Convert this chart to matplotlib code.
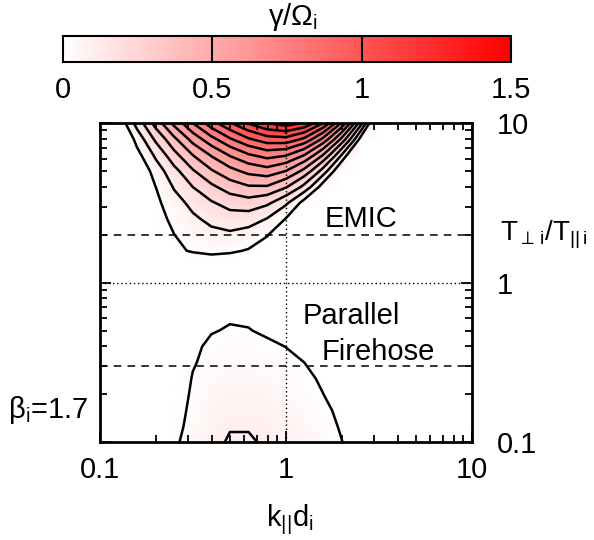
import numpy as np
import matplotlib
matplotlib.use("Agg")
from matplotlib import pyplot as plt
from matplotlib.colors import LinearSegmentedColormap
from matplotlib.ticker import FixedLocator, FixedFormatter, LogLocator, NullFormatter

# grid of k_par d_i and T_perp/T_par (log spaced, 0.1 dex)
k_grid = np.logspace(-1, 1, 21)
aniso_grid = np.logspace(-1, 1, 21)

# growth rate gamma/Omega_i, rows from T ratio 0.1 (bottom) to 10 (top),
# columns from k d_i = 0.1 to 10; negative = damped / no instability
gamma_rows = [
    [-0.1, -0.1, -0.1, -0.089, -0.013, 0.044, 0.082, 0.108, 0.108, 0.09, 0.083, 0.063, 0.037, 0.004, -0.036, -0.082, -0.1, -0.1, -0.1, -0.1, -0.1],
    [-0.1, -0.1, -0.1, -0.1, -0.025, 0.032, 0.072, 0.095, 0.095, 0.085, 0.070, 0.051, 0.026, -0.005, -0.043, -0.087, -0.1, -0.1, -0.1, -0.1, -0.1],
    [-0.1, -0.1, -0.1, -0.1, -0.033, 0.023, 0.059, 0.076, 0.077, 0.070, 0.058, 0.040, 0.016, -0.014, -0.05, -0.092, -0.1, -0.1, -0.1, -0.1, -0.1],
    [-0.1, -0.1, -0.1, -0.1, -0.039, 0.014, 0.048, 0.065, 0.065, 0.058, 0.046, 0.027, 0.003, -0.028, -0.064, -0.1, -0.1, -0.1, -0.1, -0.1, -0.1],
    [-0.1, -0.1, -0.1, -0.1, -0.042, 0.006, 0.038, 0.052, 0.052, 0.045, 0.033, 0.016, -0.008, -0.036, -0.071, -0.1, -0.1, -0.1, -0.1, -0.1, -0.1],
    [-0.1, -0.1, -0.1, -0.1, -0.049, -0.004, 0.026, 0.039, 0.039, 0.032, 0.020, 0.002, -0.022, -0.051, -0.086, -0.1, -0.1, -0.1, -0.1, -0.1, -0.1],
    [-0.1, -0.1, -0.1, -0.1, -0.052, -0.009, 0.014, 0.025, 0.024, 0.016, 0.001, -0.023, -0.053, -0.09, -0.1, -0.1, -0.1, -0.1, -0.1, -0.1, -0.1],
    [-0.1, -0.1, -0.1, -0.1, -0.056, -0.023, -0.002, 0.008, 0.005, -0.011, -0.038, -0.077, -0.1, -0.1, -0.1, -0.1, -0.1, -0.1, -0.1, -0.1, -0.1],
    [-0.1, -0.1, -0.1, -0.1, -0.07, -0.035, -0.015, -0.008, -0.012, -0.03, -0.06, -0.1, -0.1, -0.1, -0.1, -0.1, -0.1, -0.1, -0.1, -0.1, -0.1],
    [-0.1, -0.1, -0.1, -0.1, -0.1, -0.1, -0.1, -0.1, -0.1, -0.1, -0.1, -0.1, -0.1, -0.1, -0.1, -0.1, -0.1, -0.1, -0.1, -0.1, -0.1],
    [-0.1, -0.1, -0.1, -0.1, -0.1, -0.1, -0.1, -0.1, -0.1, -0.1, -0.1, -0.1, -0.1, -0.1, -0.1, -0.1, -0.1, -0.1, -0.1, -0.1, -0.1],
    [-0.2, -0.18, -0.15, -0.1, -0.08, -0.06, -0.05, -0.06, -0.08, -0.1, -0.1, -0.12, -0.15, -0.2, -0.2, -0.2, -0.2, -0.2, -0.2, -0.2, -0.2],
    [-0.13, -0.10, -0.067, -0.037, -0.011, 0.009, 0.02, 0.014, -0.005, -0.036, -0.079, -0.134, -0.2, -0.26, -0.3, -0.3, -0.3, -0.3, -0.3, -0.3, -0.3],
    [-0.25, -0.18, -0.11, -0.051, 0.001, 0.043, 0.074, 0.084, 0.060, 0.007, -0.076, -0.19, -0.3, -0.3, -0.3, -0.3, -0.3, -0.3, -0.3, -0.3, -0.3],
    [-0.27, -0.19, -0.11, -0.036, 0.028, 0.083, 0.127, 0.156, 0.149, 0.096, -0.001, -0.14, -0.3, -0.3, -0.3, -0.3, -0.3, -0.3, -0.3, -0.3, -0.3],
    [-0.3, -0.21, -0.11, -0.02, 0.06, 0.13, 0.19, 0.24, 0.26, 0.22, 0.12, -0.04, -0.26, -0.3, -0.3, -0.3, -0.3, -0.3, -0.3, -0.3, -0.3],
    [-0.3, -0.24, -0.12, 0.001, 0.11, 0.20, 0.28, 0.35, 0.39, 0.39, 0.31, 0.17, -0.05, -0.3, -0.3, -0.3, -0.3, -0.3, -0.3, -0.3, -0.3],
    [-0.3, -0.24, -0.09, 0.047, 0.17, 0.29, 0.39, 0.47, 0.53, 0.56, 0.50, 0.37, 0.16, -0.12, -0.3, -0.3, -0.3, -0.3, -0.3, -0.3, -0.3],
    [-0.3, -0.2, -0.03, 0.12, 0.27, 0.40, 0.51, 0.61, 0.69, 0.74, 0.71, 0.60, 0.40, 0.10, -0.27, -0.3, -0.3, -0.3, -0.3, -0.3, -0.3],
    [-0.3, -0.155, 0.04, 0.22, 0.38, 0.54, 0.67, 0.79, 0.89, 0.96, 0.97, 0.88, 0.68, 0.38, -0.02, -0.3, -0.3, -0.3, -0.3, -0.3, -0.3],
    [-0.3, -0.074, 0.14, 0.34, 0.53, 0.70, 0.86, 0.99, 1.11, 1.20, 1.25, 1.19, 1.00, 0.69, 0.26, -0.29, -0.3, -0.3, -0.3, -0.3, -0.3],
]

contour_levels = [0.002, 0.1, 0.2, 0.3, 0.4, 0.5, 0.6, 0.7, 0.8, 0.9, 1.0, 1.1, 1.2]
emic_threshold = 2.0
firehose_threshold = 0.3
beta_i = 1.7

axis_ticks = [0.1, 1, 10]
axis_tick_labels = ["0.1", "1", "10"]
cbar_ticks = [0, 0.5, 1, 1.5]
cbar_tick_labels = ["0", "0.5", "1", "1.5"]

plt.rcParams["font.family"] = ["Liberation Sans", "DejaVu Sans"]
plt.rcParams["mathtext.fontset"] = "custom"
plt.rcParams["mathtext.rm"] = "Liberation Sans"
plt.rcParams["mathtext.it"] = "Liberation Sans:italic"

white_red = LinearSegmentedColormap.from_list("white_red", ["#ffffff", "#ff0000"])
fs = 21

fig = plt.figure(figsize=(5.94, 5.4), dpi=100)
ax = fig.add_axes([0.168, 0.181, 0.626, 0.591])
ax.set_xscale("log")
ax.set_yscale("log")

K, A = np.meshgrid(k_grid, aniso_grid)
gamma = np.array(gamma_rows)

mesh = ax.pcolormesh(K, A, gamma, shading="gouraud", cmap=white_red, vmin=0, vmax=1.5)
ax.contour(K, A, gamma, levels=contour_levels, colors="k", linewidths=1.8)

# thresholds and reference lines
ax.axhline(emic_threshold, color="k", lw=1.1, ls=(0, (5, 4)))
ax.axhline(firehose_threshold, color="k", lw=1.1, ls=(0, (5, 4)))
ax.axvline(1, color="k", lw=1.0, ls=(0, (1, 2)))
ax.axhline(1, color="k", lw=1.0, ls=(0, (1, 2)))

ax.set_xlim(0.1, 10)
ax.set_ylim(0.1, 10)

for axis in (ax.xaxis, ax.yaxis):
    axis.set_major_locator(FixedLocator(axis_ticks))
    axis.set_major_formatter(FixedFormatter(axis_tick_labels))
    axis.set_minor_locator(LogLocator(base=10, subs=range(2, 10)))
    axis.set_minor_formatter(NullFormatter())

ax.tick_params(which="both", direction="in", top=True, bottom=True, left=True, right=True,
               labelleft=False, labelright=True, labelsize=fs, width=1.3)
ax.tick_params(which="major", length=8)
ax.tick_params(which="minor", length=5)
ax.tick_params(axis="x", pad=10)
ax.tick_params(axis="y", pad=18)
for s in ax.spines.values():
    s.set_linewidth(2)

ax.text(1.62, 2.5, "EMIC", fontsize=fs, va="center", ha="left")
ax.text(1.23, 0.616, "Parallel", fontsize=fs, va="center", ha="left")
ax.text(1.56, 0.367, "Firehose", fontsize=fs, va="center", ha="left")

ax.text(1.075, 0.649, r"T$_{\perp\,\mathrm{i}}$/T$_{||\,\mathrm{i}}$", transform=ax.transAxes,
        fontsize=20, va="center", ha="left")
fig.text(290 / 594, 1 - 520 / 540, r"k$_{||}$d$_\mathrm{i}$", fontsize=fs, ha="center", va="center")
fig.text(8 / 594, 1 - 410 / 540, "β$_\\mathrm{i}$=" + str(beta_i), fontsize=fs, ha="left", va="center")

# colorbar on top
cax = fig.add_axes([0.106, 0.885, 0.754, 0.048])
cb = fig.colorbar(mesh, cax=cax, orientation="horizontal", ticks=cbar_ticks)
cb.ax.set_xticklabels(cbar_tick_labels)
cax.tick_params(length=0, labelsize=fs, pad=10)
cb.outline.set_linewidth(1.5)
for d in (0.5, 1.0):
    cax.axvline(d, color="k", lw=1.5)
fig.text(293 / 594, 1 - 17 / 540, "γ/Ω$_\\mathrm{i}$", fontsize=fs, ha="center", va="center")

fig.savefig("out.png", dpi=100)
